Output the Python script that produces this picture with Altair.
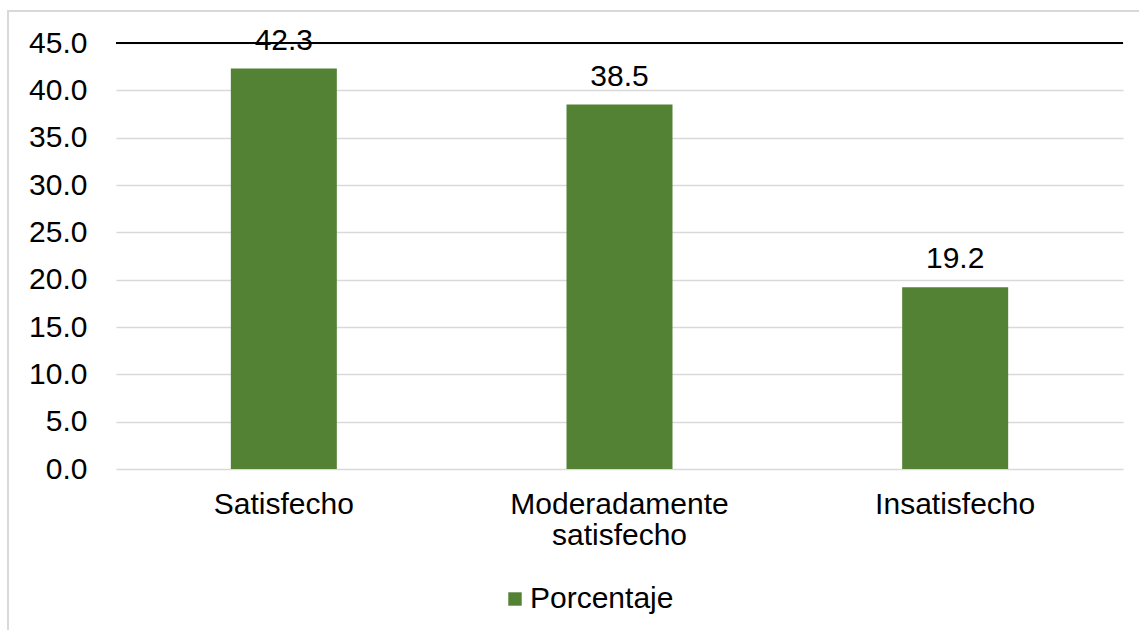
import altair as alt
import pandas as pd

categories = ["Satisfecho", "Moderadamente satisfecho", "Insatisfecho"]
porcentaje = [42.3, 38.5, 19.2]
series_name = "Porcentaje"
y_ticks = [0, 5, 10, 15, 20, 25, 30, 35, 40, 45]

df = pd.DataFrame({
    "categoria": categories,
    "valor": porcentaje,
    "serie": [series_name] * len(categories),
})

FONT = "Liberation Sans"
FS = 30
GREEN = "#548235"
W, H = 1007, 426

x_enc = alt.X(
    "categoria:N",
    sort=categories,
    scale=alt.Scale(paddingInner=0.684, paddingOuter=0.342),
    axis=alt.Axis(
        title=None, labelAngle=0, domain=False, ticks=False,
        labelFont=FONT, labelFontSize=FS, labelColor="#000000",
        labelPadding=20, labelLineHeight=31, labelLimit=0,
        labelExpr="split(datum.label, ' ')",
    ),
)
y_scale = alt.Scale(domain=[0, 45], nice=False)

bars = alt.Chart(df).mark_bar(size=106).encode(
    x=x_enc,
    y=alt.Y(
        "valor:Q",
        scale=y_scale,
        axis=alt.Axis(
            title=None, values=y_ticks, format=".1f", domain=False, ticks=False,
            labelFont=FONT, labelFontSize=FS, labelColor="#000000",
            labelPadding=29, grid=True, gridColor="#d9d9d9", gridWidth=1.5,
        ),
    ),
    color=alt.Color(
        "serie:N",
        scale=alt.Scale(range=[GREEN]),
        legend=alt.Legend(
            title=None, orient="none", legendX=384, legendY=541,
            symbolType="square", symbolSize=180, symbolStrokeWidth=0,
            labelFont=FONT, labelFontSize=FS, labelColor="#000000",
            labelOffset=0,
        ),
    ),
)

labels = alt.Chart(df).mark_text(
    font=FONT, fontSize=FS, color="#000000", baseline="alphabetic", dy=-19
).encode(
    x=alt.X("categoria:N", sort=categories),
    y=alt.Y("valor:Q", scale=y_scale),
    text=alt.Text("valor:Q", format=".1f"),
)

top_line = alt.Chart(pd.DataFrame({"y": [45]})).mark_rule(
    color="#000000", strokeWidth=2
).encode(y=alt.Y("y:Q", scale=y_scale))

frame = alt.Chart(pd.DataFrame({"k": [0]})).mark_rect(
    fill=None, stroke="#d9d9d9", strokeWidth=2
).encode(
    x=alt.value(-108), x2=alt.value(1040),
    y=alt.value(-32), y2=alt.value(640),
)

chart = alt.layer(frame, bars, top_line, labels).properties(
    width=W, height=H,
    autosize=alt.AutoSizeParams(type="none"),
    padding={"left": 116, "top": 43, "right": 16, "bottom": 161},
    background="#ffffff",
).configure_view(stroke=None)

chart.save("out.html", embed_options={"renderer": "svg", "actions": False})
